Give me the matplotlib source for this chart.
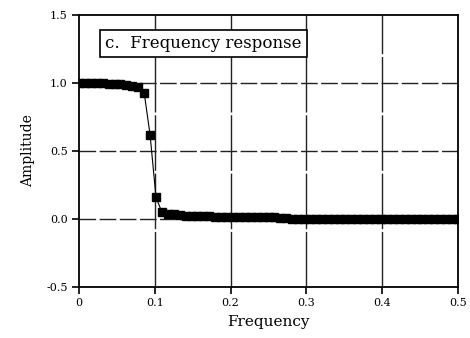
import numpy as np
import matplotlib
matplotlib.use("Agg")
import matplotlib.pyplot as plt

# Frequency samples (k/128, k = 0..64)
n_points = 65
frequency = [k / 128 for k in range(n_points)]
amplitude = [
    1.0, 1.0, 1.0, 1.0, 0.998, 0.995, 0.99, 0.99, 0.985, 0.98,
    0.97, 0.93, 0.62, 0.16, 0.05, 0.04, 0.035, 0.03, 0.025, 0.02,
    0.02, 0.02, 0.02, 0.015, 0.012, 0.012, 0.012, 0.012, 0.012, 0.012,
    0.012, 0.012, 0.012, 0.012, 0.005, 0.004, 0.003, 0.003, 0.003, 0.003,
    0.003, 0.003, 0.003, 0.003, 0.003, 0.003, 0.003, 0.003, 0.003, 0.003,
    0.002, 0.002, 0.002, 0.002, 0.002, 0.002, 0.002, 0.002, 0.002, 0.002,
    0.002, 0.002, 0.002, 0.002, 0.002,
]
x_ticks = [0, 0.1, 0.2, 0.3, 0.4, 0.5]
x_tick_labels = ["0", "0.1", "0.2", "0.3", "0.4", "0.5"]
y_ticks = [-0.5, 0.0, 0.5, 1.0, 1.5]
y_tick_labels = ["-0.5", "0.0", "0.5", "1.0", "1.5"]

plt.rcParams['font.family'] = ['DejaVu Serif']

fig = plt.figure(figsize=(4.7, 3.38), dpi=100)
ax = fig.add_axes([79/470, 51/338, 379/470, 272/338])

ax.plot(frequency, amplitude, color='black', linewidth=0.8, marker='s',
        markersize=5.5, markerfacecolor='black', markeredgecolor='black', zorder=3)

ax.set_xlim(0, 0.5)
ax.set_ylim(-0.5, 1.5)
ax.set_xticks(x_ticks)
ax.set_xticklabels(x_tick_labels, fontsize=8)
ax.set_yticks(y_ticks)
ax.set_yticklabels(y_tick_labels, fontsize=8)
ax.tick_params(direction='out', length=5, width=1.2, colors='black', pad=3)

# dashed grid on interior lines only
for xv in x_ticks[1:-1]:
    ax.axvline(xv, color='#222222', linewidth=1.0, linestyle=(0, (40, 2)), zorder=1)
for yv in y_ticks[1:-1]:
    ax.axhline(yv, color='#222222', linewidth=1.0, linestyle=(0, (12, 2.5)), zorder=1)

for s in ax.spines.values():
    s.set_linewidth(1.3)

ax.set_xlabel("Frequency", fontsize=11, labelpad=5)
ax.set_ylabel("Amplitude", fontsize=10, labelpad=8)

ax.text(0.069, 0.897, "c.  Frequency response", transform=ax.transAxes,
        fontsize=12, va='center', ha='left', zorder=5,
        bbox=dict(boxstyle='square,pad=0.3', facecolor='white',
                  edgecolor='black', linewidth=1.2))

fig.savefig("out.png", dpi=100)
